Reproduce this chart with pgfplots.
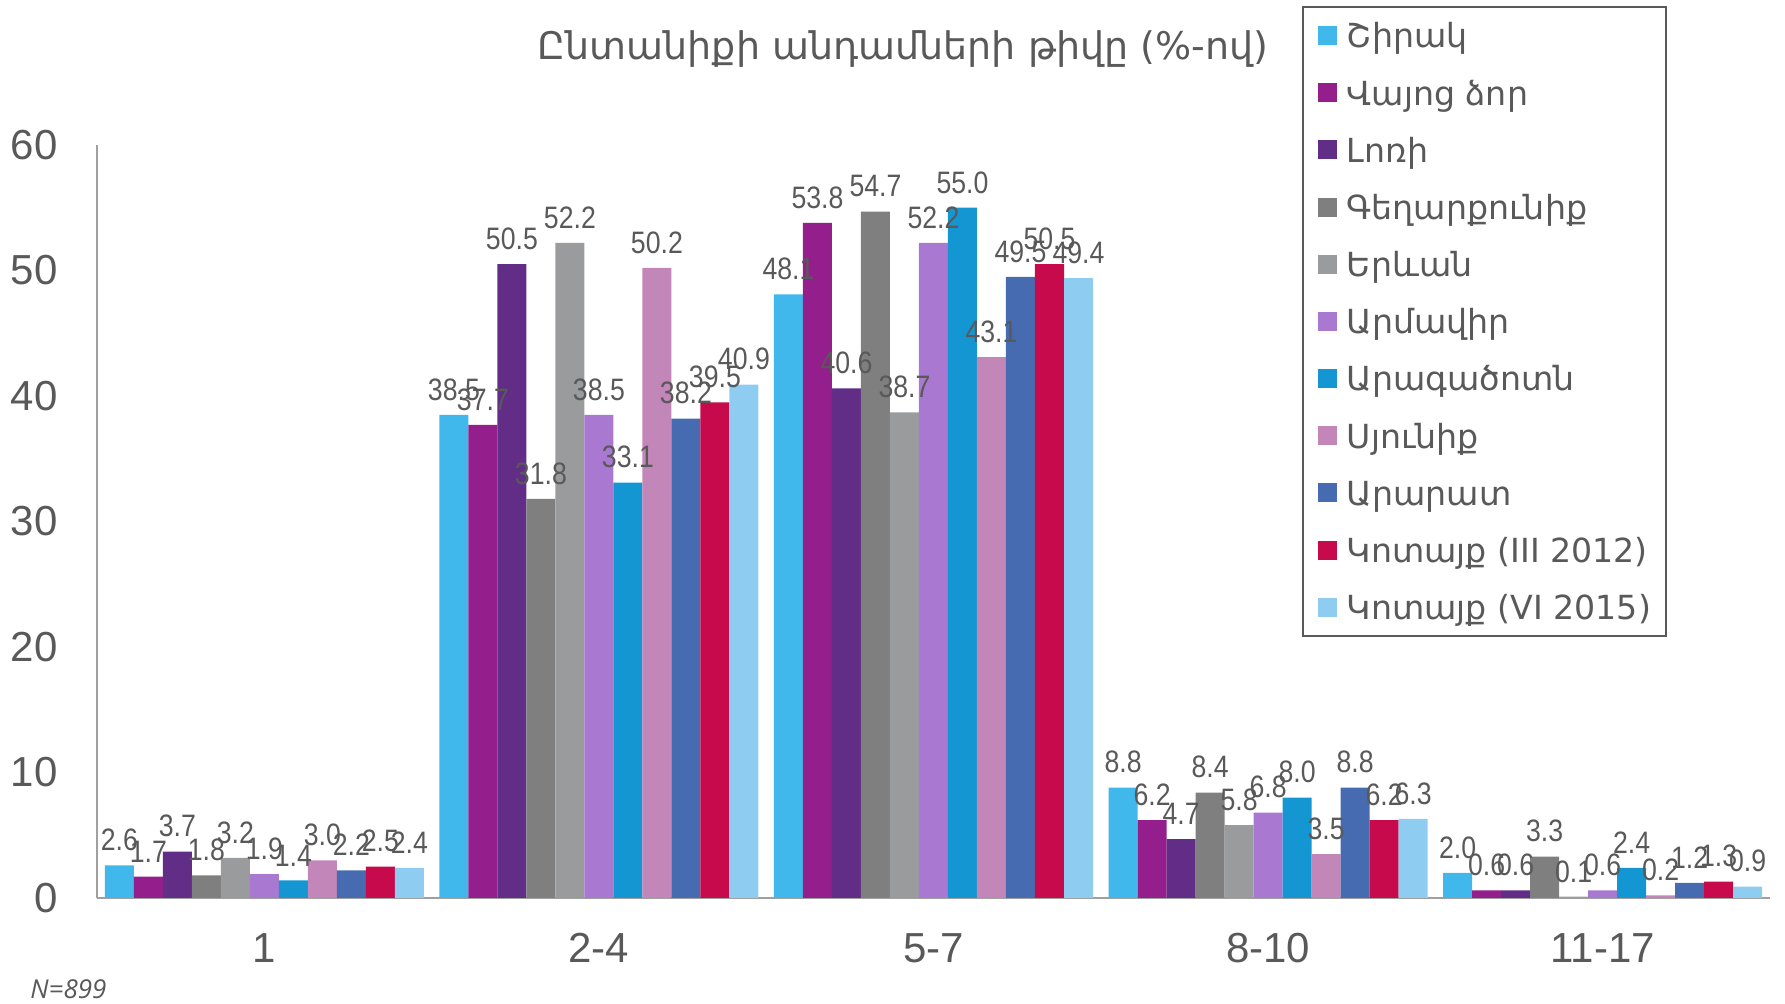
\documentclass[border=0pt]{standalone}
\usepackage{pgfplots}
\pgfplotsset{compat=1.18}
\usepackage{fontspec}
\setmainfont{Liberation Sans}
\newfontfamily\arm{DejaVu Sans}
\newfontfamily\narrow[FakeStretch=0.86]{Liberation Sans}
\newfontfamily\opensans{Open Sans}
\definecolor{txt}{HTML}{595959}
\definecolor{axgray}{HTML}{A0A0A0}
\definecolor{cA}{HTML}{41B8EB}
\definecolor{cB}{HTML}{941E8C}
\definecolor{cC}{HTML}{612D87}
\definecolor{cD}{HTML}{7F7F7F}
\definecolor{cE}{HTML}{9A9B9D}
\definecolor{cF}{HTML}{A979D1}
\definecolor{cG}{HTML}{1496D2}
\definecolor{cH}{HTML}{C286B9}
\definecolor{cI}{HTML}{466BB0}
\definecolor{cJ}{HTML}{C70A4B}
\definecolor{cK}{HTML}{8ECDF1}
\begin{document}
\begin{tikzpicture}
\path[use as bounding box] (-48.5pt,-53pt) rectangle (844pt,449pt);
\begin{axis}[
  at={(0,0)}, anchor=south west,
  scale only axis, width=836.5pt, height=376.5pt,
  ybar=0pt, bar width=14.5pt,
  xmin=-0.5, xmax=4.5, ymin=0, ymax=60,
  axis x line=bottom, axis y line=left,
  axis line style={axgray, line width=1pt, -},
  xtick={0,1,2,3,4}, xticklabels={1,2-4,5-7,8-10,11-17},
  ytick={0,10,20,30,40,50,60},
  major tick length=0pt,
  tick style={draw=none},
  /pgf/number format/assume math mode=true,
  ticklabel style={font=\fontsize{21}{21}\selectfont, text=txt},
  xticklabel style={anchor=north, inner sep=0pt, yshift=-17.5pt},
  yticklabel style={anchor=east, inner sep=0pt, xshift=-19.5pt},
  nodes near coords={\pgfmathprintnumber[fixed, fixed zerofill, precision=1]{\pgfplotspointmeta}},
  every node near coord/.append style={font=\narrow\fontsize{15.5}{15.5}\selectfont, text=txt, anchor=south, inner sep=0pt, yshift=7pt},
  legend image code/.code={\fill[#1, draw=none] (0pt,-4.75pt) rectangle (9.5pt,4.75pt);},
  legend style={at={(rel axis cs:0.7203,1.1846)}, anchor=north west,
    draw=txt, line width=0.8pt, inner xsep=7.5pt, inner ysep=0pt,
    font=\arm\fontsize{16.6}{16.6}\selectfont, text=txt,
    cells={anchor=west},
    nodes={inner sep=0pt, text height=20.5pt, text depth=8.1pt},
    column sep=5pt, row sep=0pt},
  legend cell align=left,
]
\addplot[fill=cA, draw=none] coordinates {(0,2.6) (1,38.5) (2,48.1) (3,8.8) (4,2.0)};
\addlegendentry{Շիրակ}
\addplot[fill=cB, draw=none] coordinates {(0,1.7) (1,37.7) (2,53.8) (3,6.2) (4,0.6)};
\addlegendentry{Վայոց ձոր}
\addplot[fill=cC, draw=none] coordinates {(0,3.7) (1,50.5) (2,40.6) (3,4.7) (4,0.6)};
\addlegendentry{Լոռի}
\addplot[fill=cD, draw=none] coordinates {(0,1.8) (1,31.8) (2,54.7) (3,8.4) (4,3.3)};
\addlegendentry{Գեղարքունիք}
\addplot[fill=cE, draw=none] coordinates {(0,3.2) (1,52.2) (2,38.7) (3,5.8) (4,0.1)};
\addlegendentry{Երևան}
\addplot[fill=cF, draw=none] coordinates {(0,1.9) (1,38.5) (2,52.2) (3,6.8) (4,0.6)};
\addlegendentry{Արմավիր}
\addplot[fill=cG, draw=none] coordinates {(0,1.4) (1,33.1) (2,55.0) (3,8.0) (4,2.4)};
\addlegendentry{Արագածոտն}
\addplot[fill=cH, draw=none] coordinates {(0,3.0) (1,50.2) (2,43.1) (3,3.5) (4,0.2)};
\addlegendentry{Սյունիք}
\addplot[fill=cI, draw=none] coordinates {(0,2.2) (1,38.2) (2,49.5) (3,8.8) (4,1.2)};
\addlegendentry{Արարատ}
\addplot[fill=cJ, draw=none] coordinates {(0,2.5) (1,39.5) (2,50.5) (3,6.2) (4,1.3)};
\addlegendentry{Կոտայք (III 2012)}
\addplot[fill=cK, draw=none] coordinates {(0,2.4) (1,40.9) (2,49.4) (3,6.3) (4,0.9)};
\addlegendentry{Կոտայք (VI 2015)}
\end{axis}
\node[font=\arm\fontsize{19}{19}\selectfont, text=txt] at (403pt,424.5pt) {Ընտանիքի անդամների թիվը (\%-ով)};
\node[font=\opensans\itshape\fontsize{13}{13}\selectfont, text=txt, anchor=west, inner sep=0pt] at (-33.5pt,-45.5pt) {N=899};
\end{tikzpicture}
\end{document}
